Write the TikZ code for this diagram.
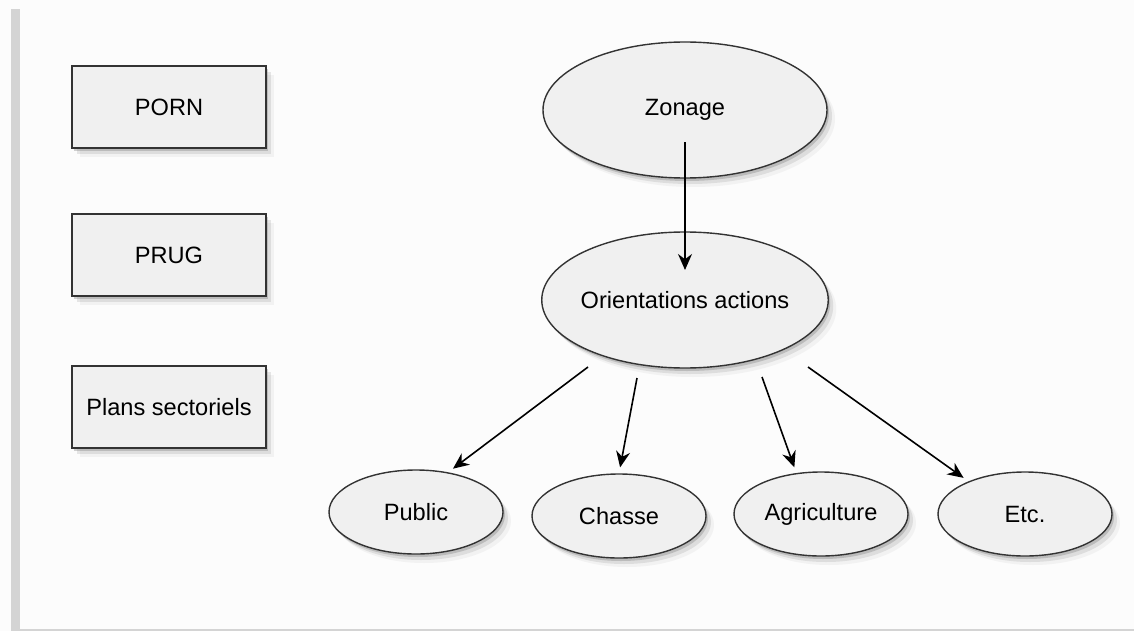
\documentclass[tikz,border=0pt]{standalone}
\usepackage{fontspec}
\setmainfont{Liberation Sans}
\usetikzlibrary{shapes.geometric,shadows,arrows.meta}

\definecolor{paper}{HTML}{FCFCFC}
\definecolor{margin}{HTML}{D4D4D4}
\definecolor{boxfill}{HTML}{F0F0F0}
\definecolor{edge}{HTML}{333333}

\tikzset{
    softshadow/.style={
        drop shadow={shadow xshift=1pt, shadow yshift=-1.5pt, opacity=0.35},
        drop shadow={shadow xshift=2.5pt, shadow yshift=-3pt, opacity=0.18},
        drop shadow={shadow xshift=4pt, shadow yshift=-4.5pt, opacity=0.08}},
    planbox/.style={rectangle, draw=edge, fill=boxfill, line width=0.7pt,
        minimum width=97pt, minimum height=41pt, softshadow,
        font=\fontsize{11.8}{14}\selectfont},
    bigbubble/.style={ellipse, draw=edge, fill=boxfill, line width=0.7pt,
        inner xsep=-1.5pt, inner ysep=0pt, minimum width=142pt, minimum height=68pt,
        softshadow, font=\fontsize{11.8}{14}\selectfont},
    smallbubble/.style={bigbubble, minimum width=87pt, minimum height=42pt},
    link/.style={-{Stealth[length=8pt,width=7pt]}, line width=0.8pt}
}

\begin{document}
\begin{tikzpicture}[x=0.5pt, y=-0.5pt]
    % page and left margin
    \useasboundingbox (0,0) rectangle (1134,631);
    \fill[paper] (0,0) rectangle (1134,631);
    \fill[margin] (11,9) rectangle (20,631);
    \draw[margin, line width=0.8pt] (20,630) -- (1134,630);

    % plans on the left
    \node[planbox] (porn)  at (169,107) {PORN};
    \node[planbox] (prug)  at (169,255) {PRUG};
    \node[planbox] (plans) at (169,407) {Plans sectoriels};

    % zonage and orientations
    \node[bigbubble] (zonage) at (685,110) {Zonage};
    \node[bigbubble] (orient) at (685,300) {Orientations actions};

    % sectors
    \node[smallbubble] (public)  at (416,512)  {Public};
    \node[smallbubble] (chasse)  at (619,516)  {Chasse};
    \node[smallbubble] (agri)    at (821,514)  {Agriculture};
    \node[smallbubble] (etc)     at (1025,514) {Etc.};

    % start points of the lower arrows
    \coordinate (toPublic) at (588,367);
    \coordinate (toChasse) at (637,378);
    \coordinate (toAgri)   at (762,377);
    \coordinate (toEtc)    at (808,367);

    \draw[link, shorten <=16pt, shorten >=15pt] (zonage.center) -- (orient.center);
    \draw[link, shorten >=3pt] (toPublic) -- (public.51);
    \draw[link, shorten >=3pt] (toChasse) -- (chasse.north);
    \draw[link, shorten >=3pt] (toAgri)   -- (agri.121);
    \draw[link, shorten >=3pt] (toEtc)    -- (etc.150);
\end{tikzpicture}
\end{document}
